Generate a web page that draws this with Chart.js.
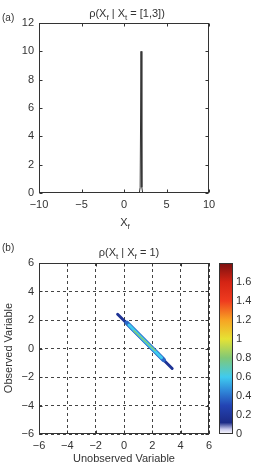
<!DOCTYPE html>
<html>
<head>
<meta charset="utf-8">
<script src="https://cdn.jsdelivr.net/npm/chart.js@4.4.0/dist/chart.umd.min.js"></script>
<style>
    html, body { margin: 0; padding: 0; background: #fff; }
    #page { position: relative; width: 262px; height: 464px; overflow: hidden; }
    canvas { position: absolute; }
</style>
</head>
<body>
<div id="page">
    <canvas id="chartA" style="left:0;top:0" width="262" height="232"></canvas>
    <canvas id="chartB" style="left:0;top:232px" width="262" height="232"></canvas>
    <canvas id="colorbar" style="left:200px;top:232px" width="62" height="232"></canvas>
</div>
<script>
// (a) densité conditionnelle : un pic étroit vers x = 2
const spikeX = [-10, 1.8, 1.9, 2.0, 2.1, 2.2, 10];
const spikeY = [0, 0, 0.4, 10, 0.4, 0, 0];
const ticksAX = [-10, -5, 0, 5, 10];
const ticksAY = [0, 2, 4, 6, 8, 10, 12];

// (b) bande allongée, couches par niveau de densité (de l'extérieur vers le centre)
const bandLevels = [0.18, 0.38, 0.6, 0.82];
const bandStartX = [-0.45, 0.2, 0.35, 0.7];
const bandStartY = [2.4, 1.8, 1.65, 1.25];
const bandEndX = [3.4, 2.8, 2.65, 2.2];
const bandEndY = [-1.4, -0.8, -0.65, -0.15];
const bandWidths = [3, 4.5, 3, 1.3];
const ticksB = [-6, -4, -2, 0, 2, 4, 6];

// barre de couleurs
const colorbarTicks = [0, 0.2, 0.4, 0.6, 0.8, 1, 1.2, 1.4, 1.6];
const colorbarMax = 1.8;

// textes (segments : [texte, indice])
const titleA = [['ρ(X', false], ['f', true], [' | X', false], ['t', true], [' = [1,3])', false]];
const titleB = [['ρ(X', false], ['t', true], [' | X', false], ['f', true], [' = 1)', false]];
const xLabelA = [['X', false], ['f', true]];
const xLabelB = 'Unobserved Variable';
const yLabelB = 'Observed Variable';

const FONT = '"Liberation Sans", Arial, sans-serif';
const INK = '#333';

/**
 * Palette "jet" avec départ blanc
 */
const jetStops = [
    [0, '#ffffff'], [0.05, '#c9c9ec'], [0.12, '#1c2a86'], [0.3, '#2344b4'],
    [0.45, '#2f86d8'], [0.6, '#3fcbef'], [0.8, '#7fc878'], [1.0, '#e6e234'],
    [1.2, '#f7a323'], [1.4, '#ef3b1f'], [1.6, '#d42414'], [1.8, '#7a1010']
];

function hexToRgb(h) {
    const n = parseInt(h.slice(1), 16);
    return [(n >> 16) & 255, (n >> 8) & 255, n & 255];
}

function jet(v) {
    for (let i = 1; i < jetStops.length; i++) {
        if (v <= jetStops[i][0]) {
            const [v0, c0] = jetStops[i - 1];
            const [v1, c1] = jetStops[i];
            const t = (v - v0) / (v1 - v0);
            const a = hexToRgb(c0), b = hexToRgb(c1);
            return 'rgb(' + a.map((x, k) => Math.round(x + (b[k] - x) * t)).join(',') + ')';
        }
    }
    return jetStops[jetStops.length - 1][1];
}

function minus(v) {
    return String(v).replace('-', '−');
}

/**
 * Texte avec indices
 */
function drawRich(ctx, segments, cx, baseline) {
    const big = '11px ' + FONT, small = '8px ' + FONT;
    let w = 0;
    segments.forEach(([t, sub]) => { ctx.font = sub ? small : big; w += ctx.measureText(t).width; });
    let x = cx - w / 2;
    ctx.textAlign = 'left';
    ctx.textBaseline = 'alphabetic';
    segments.forEach(([t, sub]) => {
        ctx.font = sub ? small : big;
        ctx.fillText(t, x, baseline + (sub ? 2.5 : 0));
        x += ctx.measureText(t).width;
    });
}

/**
 * Cadre et graduations intérieures
 */
function cadre(withTicks) {
    return {
        id: 'cadre',
        afterDatasetsDraw(chart) {
            const { ctx, chartArea: a, scales } = chart;
            const l = Math.round(a.left) + 0.5, r = Math.round(a.right) - 0.5;
            const t = Math.round(a.top) + 0.5, b = Math.round(a.bottom) - 0.5;
            ctx.save();
            ctx.strokeStyle = INK;
            ctx.lineWidth = 1;
            ctx.setLineDash([]);
            ctx.strokeRect(l, t, r - l, b - t);
            if (withTicks) {
                ctx.beginPath();
                scales.x.ticks.forEach(tk => {
                    const px = Math.round(scales.x.getPixelForValue(tk.value)) + 0.5;
                    ctx.moveTo(px, b); ctx.lineTo(px, b - 3);
                    ctx.moveTo(px, t); ctx.lineTo(px, t + 3);
                });
                scales.y.ticks.forEach(tk => {
                    const py = Math.round(scales.y.getPixelForValue(tk.value)) + 0.5;
                    ctx.moveTo(l, py); ctx.lineTo(l + 3, py);
                    ctx.moveTo(r, py); ctx.lineTo(r - 3, py);
                });
                ctx.stroke();
            }
            ctx.restore();
        }
    };
}

function textes(cfg) {
    return {
        id: 'textes',
        afterDraw(chart) {
            const { ctx } = chart;
            ctx.save();
            ctx.fillStyle = INK;
            drawRich(ctx, cfg.title, cfg.titleX, cfg.titleY);
            ctx.font = '10px ' + FONT;
            ctx.textAlign = 'left';
            ctx.textBaseline = 'middle';
            ctx.fillText(cfg.letter, 2, cfg.letterY);
            if (cfg.xRich) {
                drawRich(ctx, cfg.xRich, cfg.xLabelX, cfg.xLabelY);
            } else {
                ctx.font = '11px ' + FONT;
                ctx.textAlign = 'center';
                ctx.fillText(cfg.xText, cfg.xLabelX, cfg.xLabelY);
            }
            if (cfg.yText) {
                ctx.translate(9, cfg.yLabelY);
                ctx.rotate(-Math.PI / 2);
                ctx.font = '11px ' + FONT;
                ctx.textAlign = 'center';
                ctx.textBaseline = 'middle';
                ctx.fillText(cfg.yText, 0, 0);
            }
            ctx.restore();
        }
    };
}

function axis(ticks, extra) {
    return Object.assign({
        type: 'linear',
        min: ticks[0],
        max: ticks[ticks.length - 1],
        afterBuildTicks: s => { s.ticks = ticks.map(v => ({ value: v })); },
        grid: { display: false, drawTicks: false },
        border: { display: false },
        ticks: {
            color: INK,
            font: { family: FONT, size: 11 },
            padding: 5,
            callback: v => minus(v),
            maxRotation: 0,
            autoSkip: false
        }
    }, extra);
}

document.addEventListener('DOMContentLoaded', function() {
    initChartA();
    initChartB();
    initColorbar();
});

function initChartA() {
    new Chart(document.getElementById('chartA'), {
        type: 'line',
        data: {
            datasets: [{
                data: spikeX.map((x, i) => ({ x: x, y: spikeY[i] })),
                borderColor: '#333',
                borderWidth: 1,
                pointRadius: 0,
                tension: 0
            }]
        },
        options: {
            responsive: false,
            animation: false,
            layout: { padding: { left: 0, top: 23, right: 53, bottom: 0 } },
            plugins: { legend: { display: false }, tooltip: { enabled: false } },
            scales: {
                x: axis(ticksAX, { afterFit: s => { s.height = 39; } }),
                y: axis(ticksAY, { afterFit: s => { s.width = 39; } })
            }
        },
        plugins: [cadre(true), textes({
            title: titleA, titleX: 127, titleY: 17,
            letter: '(a)', letterY: 18,
            xRich: xLabelA, xLabelX: 125, xLabelY: 226
        })]
    });
}

function initChartB() {
    const gridB = { display: true, drawTicks: false, color: '#444', lineWidth: 1 };
    new Chart(document.getElementById('chartB'), {
        type: 'line',
        data: {
            // les couches intérieures passent au-dessus (order plus petit)
            datasets: bandLevels.map((lv, i) => ({
                data: [{ x: bandStartX[i], y: bandStartY[i] }, { x: bandEndX[i], y: bandEndY[i] }],
                borderColor: jet(lv),
                borderWidth: bandWidths[i],
                borderCapStyle: 'round',
                pointRadius: 0,
                order: bandLevels.length - i
            }))
        },
        options: {
            responsive: false,
            animation: false,
            layout: { padding: { left: 0, top: 31, right: 53, bottom: 0 } },
            plugins: { legend: { display: false }, tooltip: { enabled: false } },
            scales: {
                x: axis(ticksB, {
                    afterFit: s => { s.height = 30; },
                    grid: gridB,
                    border: { display: false, dash: [3, 3] }
                }),
                y: axis(ticksB, {
                    afterFit: s => { s.width = 39; },
                    grid: gridB,
                    border: { display: false, dash: [3, 3] }
                })
            }
        },
        plugins: [cadre(true), textes({
            title: titleB, titleX: 129, titleY: 24,
            letter: '(b)', letterY: 16,
            xText: xLabelB, xLabelX: 124, xLabelY: 227,
            yText: yLabelB, yLabelY: 116
        })]
    });
}

function initColorbar() {
    new Chart(document.getElementById('colorbar'), {
        type: 'bar',
        data: {
            labels: [''],
            datasets: [{
                data: [colorbarMax],
                barPercentage: 1,
                categoryPercentage: 1,
                borderWidth: 0,
                backgroundColor: function(context) {
                    const a = context.chart.chartArea;
                    if (!a) return '#fff';
                    const g = context.chart.ctx.createLinearGradient(0, a.bottom, 0, a.top);
                    jetStops.forEach(([v, c]) => g.addColorStop(Math.min(v / colorbarMax, 1), c));
                    return g;
                }
            }]
        },
        options: {
            responsive: false,
            animation: false,
            layout: { padding: { left: 19, top: 31, right: 0, bottom: 30 } },
            plugins: { legend: { display: false }, tooltip: { enabled: false } },
            scales: {
                x: { display: false },
                y: {
                    position: 'right',
                    min: 0,
                    max: colorbarMax,
                    afterBuildTicks: s => { s.ticks = colorbarTicks.map(v => ({ value: v })); },
                    afterFit: s => { s.width = 29; },
                    grid: { display: false, drawTicks: false },
                    border: { display: false },
                    ticks: {
                        color: INK,
                        font: { family: FONT, size: 11 },
                        padding: 3,
                        callback: v => String(v)
                    }
                }
            }
        },
        plugins: [cadre(false)]
    });
}
</script>
</body>
</html>
